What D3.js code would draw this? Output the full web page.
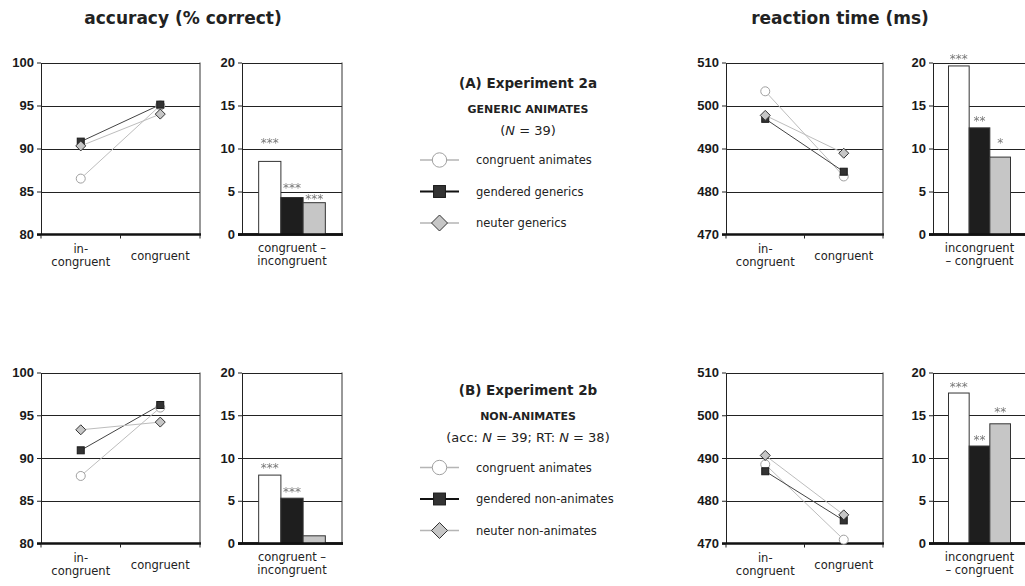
<!DOCTYPE html>
<html>
<head>
<meta charset="utf-8">
<script src="https://cdn.jsdelivr.net/npm/d3@7"></script>
<style>
  body { margin: 0; background: #fff; }
  svg text { font-family: "DejaVu Sans", Verdana, sans-serif; fill: #222; }
  .tick text { font-family: "Liberation Sans", Arial, sans-serif; font-weight: bold; font-size: 13px; fill: #1a1a1a; }
  .stars { filter: grayscale(1); }
</style>
</head>
<body>
<svg id="chart" width="1025" height="586"></svg>
<script>
// conditions on the x axis of the line panels
const conditions = ['in-congruent', 'congruent'];
const conditionLabels = [['in-', 'congruent'], ['congruent']];
const seriesKeys = ['animates', 'gendered', 'neuter'];

// ticks
const accTicks = [80, 85, 90, 95, 100];
const rtTicks = [470, 480, 490, 500, 510];
const diffTicks = [0, 5, 10, 15, 20];

// Experiment 2a - accuracy (% correct)
const accAAnimates = [86.5, 95.0];
const accAGendered = [90.8, 95.1];
const accANeuter = [90.3, 94.0];
const accADiff = [8.5, 4.3, 3.7];
const accAStars = ['***', '***', '***'];
const accAStarAt = [11.0, 5.75, 4.5];

// Experiment 2a - reaction time (ms)
const rtAAnimates = [503.3, 483.5];
const rtAGendered = [496.9, 484.6];
const rtANeuter = [497.7, 488.9];
const rtADiff = [19.6, 12.4, 9.0];
const rtAStars = ['***', '**', '*'];
const rtAStarAt = [20.75, 13.55, 11.0];

// Experiment 2b - accuracy
const accBAnimates = [87.9, 95.9];
const accBGendered = [90.9, 96.2];
const accBNeuter = [93.3, 94.2];
const accBDiff = [8.0, 5.3, 0.9];
const accBStars = ['***', '***', ''];
const accBStarAt = [9.2, 6.4, 0];

// Experiment 2b - reaction time
const rtBAnimates = [488.5, 470.9];
const rtBGendered = [486.9, 475.4];
const rtBNeuter = [490.6, 476.7];
const rtBDiff = [17.6, 11.4, 14.0];
const rtBStars = ['***', '**', '**'];
const rtBStarAt = [18.65, 12.45, 15.7];

// legend texts
const legendALabels = ['congruent animates', 'gendered generics', 'neuter generics'];
const legendBLabels = ['congruent animates', 'gendered non-animates', 'neuter non-animates'];
const accDiffLabel = ['congruent \u2013', 'incongruent'];
const rtDiffLabel = ['incongruent', '\u2013 congruent'];

const svg = d3.select('#chart');

const styles = [
  { line: '#bdbdbd', lw: 1, legendLine: '#b5b5b5', legendLw: 1.6, shape: 'circle', fill: '#fff', stroke: '#a0a0a0' },
  { line: '#444', lw: 1, legendLine: '#111', legendLw: 2.2, shape: 'square', fill: '#333', stroke: '#1a1a1a' },
  { line: '#bdbdbd', lw: 1, legendLine: '#b5b5b5', legendLw: 1.6, shape: 'diamond', fill: '#c6c6c6', stroke: '#333' }
];
const barFills = ['#fff', '#1e1e1e', '#c6c6c6'];

let drawMarker = (g, style, cx, cy, big) => {
  let s = big ? 1.6 : 1;
  if (style.shape === 'circle') {
    g.append('circle').attr('cx', cx).attr('cy', cy).attr('r', 4.5 * s)
      .attr('fill', style.fill).attr('stroke', style.stroke).attr('stroke-width', 1);
  } else if (style.shape === 'square') {
    let h = 3.5 * (big ? 1.7 : 1);
    g.append('rect').attr('x', cx - h).attr('y', cy - h).attr('width', 2 * h).attr('height', 2 * h)
      .attr('fill', style.fill).attr('stroke', style.stroke).attr('stroke-width', 1);
  } else {
    let h = 5 * s;
    g.append('path').attr('d', `M${cx},${cy - h}L${cx + h},${cy}L${cx},${cy + h}L${cx - h},${cy}Z`)
      .attr('fill', style.fill).attr('stroke', style.stroke).attr('stroke-width', 1);
  }
};

let drawFrame = (g, x0, x1, y, ticks) => {
  // horizontal grid lines and top border
  g.selectAll('.grid').data(ticks.slice(1)).join('line')
    .attr('class', 'grid')
    .attr('x1', x0).attr('x2', x1)
    .attr('y1', d => Math.round(y(d)) + 0.5).attr('y2', d => Math.round(y(d)) + 0.5)
    .attr('stroke', '#222').attr('stroke-width', 1);
  // right border
  g.append('line').attr('x1', x1).attr('x2', x1)
    .attr('y1', y.range()[1]).attr('y2', y.range()[0])
    .attr('stroke', '#333').attr('stroke-width', 1);
  // y axis
  let yAxis = d3.axisLeft(y).tickValues(ticks).tickSize(4).tickPadding(3).tickSizeOuter(0);
  let ax = g.append('g').attr('transform', `translate(${x0},0)`).call(yAxis);
  ax.select('.domain').attr('stroke', '#222');
  ax.selectAll('.tick line').attr('stroke', '#222');
  // thick bottom axis
  g.append('line').attr('x1', x0 - 4).attr('x2', x1 + 1)
    .attr('y1', y.range()[0]).attr('y2', y.range()[0])
    .attr('stroke', '#111').attr('stroke-width', 2.5);
};

let linePanel = (x0, x1, yTop, yBot, ticks, series) => {
  let g = svg.append('g');
  let x = d3.scaleBand().domain(conditions).range([x0, x1]);
  let y = d3.scaleLinear().domain([ticks[0], ticks[ticks.length - 1]]).range([yBot, yTop]);
  drawFrame(g, x0, x1, y, ticks);

  // ticks at band boundaries
  let bounds = [x0].concat(conditions.map(c => x(c) + x.bandwidth()));
  g.selectAll('.xt').data(bounds).join('line')
    .attr('x1', d => d).attr('x2', d => d)
    .attr('y1', yBot).attr('y2', yBot + 4)
    .attr('stroke', '#222');

  // category labels
  conditions.forEach((c, i) => {
    let lines = conditionLabels[i];
    let cx = x(c) + x.bandwidth() / 2;
    let t = g.append('text').attr('text-anchor', 'middle').attr('font-size', 11.5);
    if (lines.length === 2) {
      t.append('tspan').attr('x', cx).attr('y', yBot + 18).text(lines[0]);
      t.append('tspan').attr('x', cx).attr('y', yBot + 31).text(lines[1]);
    } else {
      t.append('tspan').attr('x', cx).attr('y', yBot + 25).text(lines[0]);
    }
  });

  let line = d3.line()
    .x((d, i) => x(conditions[i]) + x.bandwidth() / 2)
    .y(d => y(d));

  series.forEach((vals, k) => {
    g.append('path').datum(vals).attr('d', line)
      .attr('fill', 'none').attr('stroke', styles[k].line).attr('stroke-width', styles[k].lw);
  });
  series.forEach((vals, k) => {
    vals.forEach((v, i) => {
      drawMarker(g, styles[k], x(conditions[i]) + x.bandwidth() / 2, y(v), false);
    });
  });
};

let barPanel = (x0, x1, yTop, yBot, values, stars, starAt, label) => {
  let g = svg.append('g');
  let x = d3.scaleBand().domain(seriesKeys).range([x0, x1]).paddingInner(0).paddingOuter(0.75);
  let y = d3.scaleLinear().domain([0, 20]).range([yBot, yTop]);
  drawFrame(g, x0, x1, y, diffTicks);

  g.selectAll('.bar').data(values).join('rect')
    .attr('class', 'bar')
    .attr('x', (d, i) => x(seriesKeys[i]))
    .attr('width', x.bandwidth())
    .attr('y', d => y(d))
    .attr('height', d => y(0) - y(d))
    .attr('fill', (d, i) => barFills[i])
    .attr('stroke', '#333').attr('stroke-width', 1);

  g.append('g').attr('class', 'stars').selectAll('text').data(stars).join('text')
    .attr('x', (d, i) => x(seriesKeys[i]) + x.bandwidth() / 2)
    .attr('y', (d, i) => y(starAt[i]) + 7)
    .attr('text-anchor', 'middle')
    .attr('font-size', 12)
    .style('fill', '#777')
    .text(d => d);

  // redraw thick baseline over bars
  g.append('line').attr('x1', x0 - 4).attr('x2', x1 + 1)
    .attr('y1', yBot).attr('y2', yBot)
    .attr('stroke', '#111').attr('stroke-width', 2.5);

  let t = g.append('text').attr('text-anchor', 'middle').attr('font-size', 11.5);
  label.forEach((s, i) => {
    t.append('tspan').attr('x', (x0 + x1) / 2).attr('y', yBot + 17 + i * 13).text(s);
  });
};

let legend = (cx, yTitle, title, subtitle, nParts, labels) => {
  let g = svg.append('g');
  g.append('text').attr('x', cx).attr('y', yTitle).attr('text-anchor', 'middle')
    .attr('font-size', 13.5).attr('font-weight', 'bold').text(title);
  g.append('text').attr('x', cx).attr('y', yTitle + 25).attr('text-anchor', 'middle')
    .attr('font-size', 11).attr('font-weight', 'bold').text(subtitle);
  let n = g.append('text').attr('x', cx).attr('y', yTitle + 47).attr('text-anchor', 'middle')
    .attr('font-size', 13);
  nParts.forEach(p => {
    n.append('tspan').attr('font-style', p[1] ? 'italic' : 'normal').text(p[0]);
  });
  labels.forEach((lab, k) => {
    let yy = yTitle + 72.5 + k * 31.5;
    g.append('line').attr('x1', 420).attr('x2', 459).attr('y1', yy).attr('y2', yy)
      .attr('stroke', styles[k].legendLine).attr('stroke-width', styles[k].legendLw);
    drawMarker(g, styles[k], 439.5, yy, true);
    g.append('text').attr('x', 476).attr('y', yy + 4).attr('font-size', 11.5).text(lab);
  });
};

// column titles
svg.append('text').attr('x', 183).attr('y', 24).attr('text-anchor', 'middle')
  .attr('font-size', 17).attr('font-weight', 'bold').text('accuracy (% correct)');
svg.append('text').attr('x', 840).attr('y', 24).attr('text-anchor', 'middle')
  .attr('font-size', 17).attr('font-weight', 'bold').text('reaction time (ms)');

// Experiment 2a
linePanel(41, 200, 62.5, 234.5, accTicks, [accAAnimates, accAGendered, accANeuter]);
barPanel(242, 342, 62.5, 234.5, accADiff, accAStars, accAStarAt, accDiffLabel);
linePanel(726, 883, 62.5, 234.5, rtTicks, [rtAAnimates, rtAGendered, rtANeuter]);
barPanel(933, 1026, 62.5, 234.5, rtADiff, rtAStars, rtAStarAt, rtDiffLabel);
legend(528, 87.5, '(A) Experiment 2a', 'GENERIC ANIMATES', [['(', false], ['N', true], [' = 39)', false]], legendALabels);

// Experiment 2b
linePanel(41, 200, 372.5, 543.5, accTicks, [accBAnimates, accBGendered, accBNeuter]);
barPanel(242, 342, 372.5, 543.5, accBDiff, accBStars, accBStarAt, accDiffLabel);
linePanel(726, 883, 372.5, 543.5, rtTicks, [rtBAnimates, rtBGendered, rtBNeuter]);
barPanel(933, 1026, 372.5, 543.5, rtBDiff, rtBStars, rtBStarAt, rtDiffLabel);
legend(528, 395, '(B) Experiment 2b', 'NON-ANIMATES',
  [['(acc: ', false], ['N', true], [' = 39; RT: ', false], ['N', true], [' = 38)', false]], legendBLabels);
</script>
</body>
</html>
